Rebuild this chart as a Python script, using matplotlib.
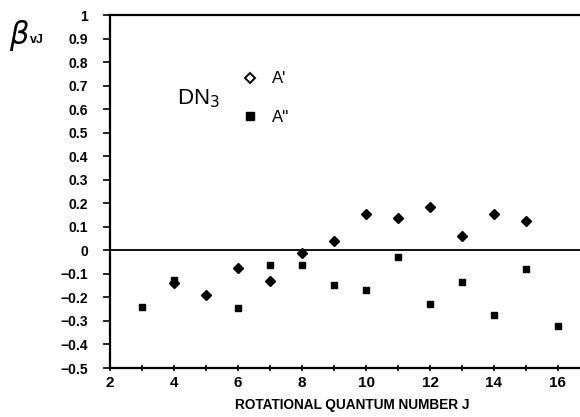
import matplotlib
matplotlib.use("Agg")
import matplotlib.pyplot as plt
from matplotlib.lines import Line2D

plt.rcParams['font.family'] = ['Liberation Sans', 'DejaVu Sans']

# A' symmetry (diamonds)
j_a1 = [4, 5, 6, 7, 8, 9, 10, 11, 12, 13, 14, 15]
beta_a1 = [-0.137, -0.19, -0.074, -0.13, -0.011, 0.038, 0.155, 0.139, 0.183, 0.062, 0.155, 0.123]

# A'' symmetry (squares)
j_a2 = [3, 4, 6, 7, 8, 9, 10, 11, 12, 13, 14, 15, 16]
beta_a2 = [-0.24, -0.126, -0.245, -0.062, -0.061, -0.147, -0.167, -0.028, -0.23, -0.136, -0.275, -0.081, -0.322]

xticks = [2, 4, 6, 8, 10, 12, 14, 16]
yticks = [-0.5, -0.4, -0.3, -0.2, -0.1, 0, 0.1, 0.2, 0.3, 0.4, 0.5, 0.6, 0.7, 0.8, 0.9, 1]


def fmt(v):
    if v == 0:
        return "0"
    if v == 1:
        return "1"
    s = "%.1f" % abs(v)
    return ("\u2212" + s) if v < 0 else s


fig = plt.figure(figsize=(5.8, 4.17), dpi=100)
ax = fig.add_axes([0.19, 0.1175, 0.81, 0.8465])

ax.plot(j_a1, beta_a1, linestyle="none", marker="D", markersize=5,
        color="black")
ax.plot(j_a2, beta_a2, linestyle="none", marker="s", markersize=5,
        color="black")
ax.axhline(0, color="black", lw=1.3)

ax.set_xlim(2, 16.69)
ax.set_ylim(-0.5, 1)
ax.set_xticks(xticks)
ax.set_xticks(range(3, 17, 2), minor=True)
ax.set_yticks(yticks)
ax.set_yticklabels([fmt(v) for v in yticks], fontweight="bold", fontsize=10)
ax.set_xticklabels([str(v) for v in xticks], fontweight="bold", fontsize=11)
ax.tick_params(axis="x", which="both", direction="inout", length=5, width=1.2, pad=3)
ax.tick_params(axis="y", direction="out", length=5, width=1.2, pad=11)

ax.spines["right"].set_visible(False)
for side in ["left", "bottom", "top"]:
    ax.spines[side].set_linewidth(1.6)

ax.set_xlabel("ROTATIONAL QUANTUM NUMBER J", fontsize=9.8, fontweight="bold", labelpad=7)
ax.xaxis.set_label_coords(0.515, -0.085)
fig.text(0.015, 0.895, r"$\beta$", fontsize=22)
fig.text(0.052, 0.897, "vJ", fontsize=9, fontweight="bold")

handles = [
    Line2D([], [], linestyle="none", marker="D", markersize=5,
           markerfacecolor="white", markeredgecolor="black", markeredgewidth=1.4),
    Line2D([], [], linestyle="none", marker="s", markersize=6, color="black"),
]
ax.legend(handles, ["A'", "A''"], loc="upper left", bbox_to_anchor=(0.283, 0.84),
          borderaxespad=0, borderpad=0, frameon=False, fontsize=12,
          handlelength=0.8, handletextpad=0.95, labelspacing=1.4)
ax.text(0.143, 0.762, r"DN$_3$", transform=ax.transAxes, fontsize=16, va="center")

fig.savefig("out.png", dpi=100)
